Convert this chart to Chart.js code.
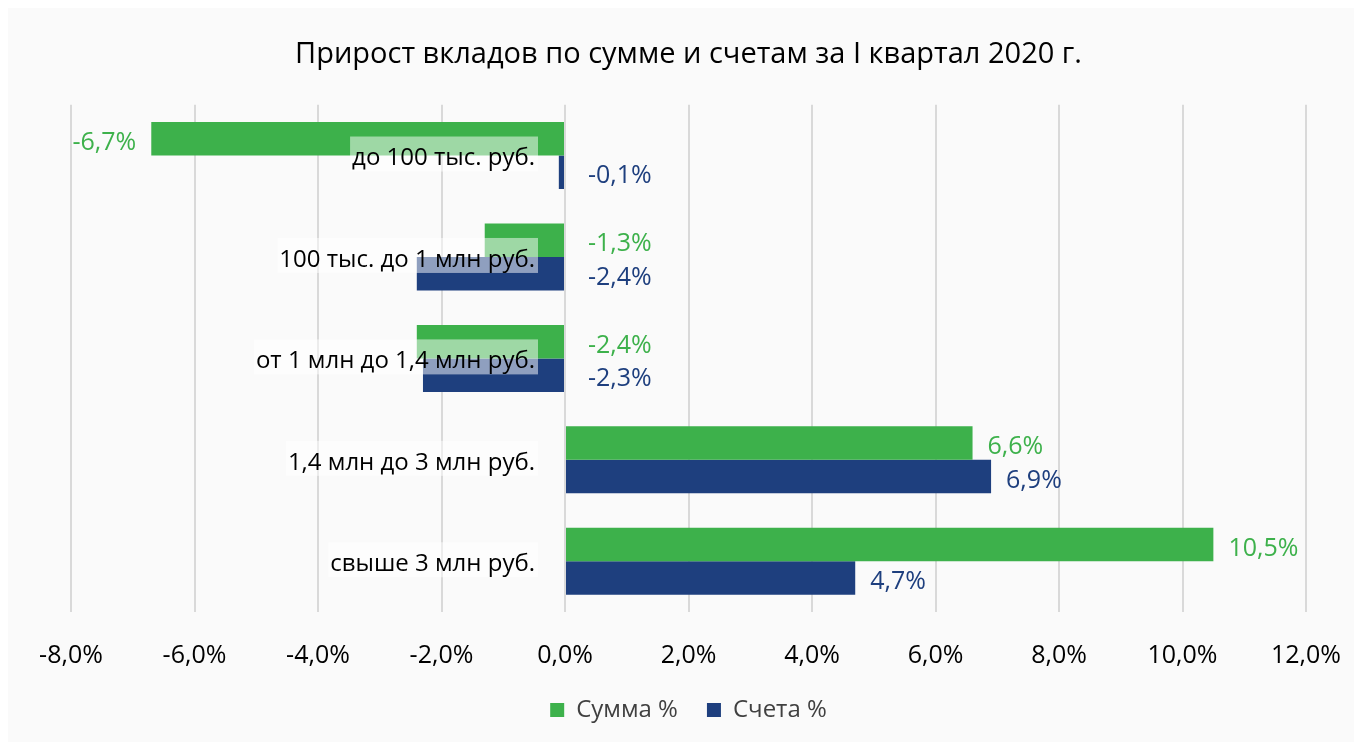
<!DOCTYPE html>
<html lang="ru">
<head>
<meta charset="utf-8">
<title>Прирост вкладов</title>
<script src="https://cdn.jsdelivr.net/npm/chart.js@4.4.0/dist/chart.umd.min.js"></script>
<style>
  html, body { margin: 0; padding: 0; background: #ffffff; }
  canvas { display: block; }
</style>
</head>
<body>
<canvas id="depositChart" width="1360" height="742"></canvas>
<script>
// Categories (top to bottom)
const categories = [
    'до 100 тыс. руб.',
    '100 тыс. до 1 млн руб.',
    'от 1 млн до 1,4 млн руб.',
    '1,4 млн до 3 млн руб.',
    'свыше 3 млн руб.'
];

// Series values, %
const summaValues = [-6.7, -1.3, -2.4, 6.6, 10.5];
const schetaValues = [-0.1, -2.4, -2.3, 6.9, 4.7];

// X axis range
const xMin = -8;
const xMax = 12;
const xStep = 2;

const GREEN = '#3db14b';
const BLUE = '#1e3f7e';
const FONT = "'Open Sans', 'Noto Sans', sans-serif";

// Format numbers the Russian way: comma as decimal separator
function pct(v) {
    return v.toFixed(1).replace('.', ',') + '%';
}

// Light grey card behind the chart
const backgroundPlugin = {
    id: 'cardBackground',
    beforeDraw(chart) {
        const ctx = chart.ctx;
        ctx.save();
        ctx.fillStyle = '#ffffff';
        ctx.fillRect(0, 0, chart.width, chart.height);
        ctx.fillStyle = '#fafafa';
        ctx.fillRect(8, 8, chart.width - 14, chart.height - 8);
        ctx.restore();
    }
};

// Category names drawn over the bars, with a half transparent white box
const categoryLabelPlugin = {
    id: 'categoryLabels',
    afterDatasetsDraw(chart) {
        const ctx = chart.ctx;
        const xScale = chart.scales.x;
        const yScale = chart.scales.y;
        const right = xScale.getPixelForValue(0) - 27;
        ctx.save();
        ctx.font = '24px ' + FONT;
        ctx.textAlign = 'right';
        ctx.textBaseline = 'middle';
        categories.forEach((name, i) => {
            const y = yScale.getPixelForValue(i);
            const w = ctx.measureText(name).width;
            ctx.fillStyle = 'rgba(255, 255, 255, 0.5)';
            ctx.fillRect(right - w - 5, y - 19, w + 5, 35);
            ctx.fillStyle = '#000000';
            ctx.fillText(name, right - 3, y + 3);
        });
        ctx.restore();
    }
};

// Value labels next to the bars
const valueLabelPlugin = {
    id: 'valueLabels',
    afterDatasetsDraw(chart) {
        const ctx = chart.ctx;
        const zero = chart.scales.x.getPixelForValue(0);
        ctx.save();
        ctx.font = '25px ' + FONT;
        ctx.textBaseline = 'middle';
        chart.data.datasets.forEach((ds, di) => {
            const meta = chart.getDatasetMeta(di);
            ctx.fillStyle = ds.backgroundColor;
            meta.data.forEach((bar, i) => {
                const v = ds.data[i];
                let x;
                if (v >= 0) {
                    ctx.textAlign = 'left';
                    x = bar.x + 15;
                } else if (v < -5) {
                    ctx.textAlign = 'right';
                    x = bar.x - 15;
                } else {
                    ctx.textAlign = 'left';
                    x = zero + 23;
                }
                ctx.fillText(pct(v), x, bar.y + 4);
            });
        });
        ctx.restore();
    }
};

const ctx = document.getElementById('depositChart').getContext('2d');
new Chart(ctx, {
    type: 'bar',
    data: {
        labels: categories,
        datasets: [
            {
                label: 'Сумма %',
                data: summaValues,
                backgroundColor: GREEN,
                borderWidth: 0
            },
            {
                label: 'Счета %',
                data: schetaValues,
                backgroundColor: BLUE,
                borderWidth: 0
            }
        ]
    },
    options: {
        indexAxis: 'y',
        responsive: false,
        animation: false,
        devicePixelRatio: 1,
        layout: {
            padding: { left: 71, right: 54, top: 0, bottom: 10 }
        },
        datasets: {
            bar: {
                barPercentage: 1,
                categoryPercentage: 0.66
            }
        },
        scales: {
            x: {
                min: xMin,
                max: xMax,
                border: { display: false },
                grid: {
                    color: '#d9d9d9',
                    lineWidth: 2,
                    drawTicks: false
                },
                ticks: {
                    stepSize: xStep,
                    padding: 31,
                    color: '#000000',
                    font: { family: FONT, size: 25, lineHeight: 1.0 },
                    callback: (value) => pct(value)
                },
                afterFit: (scale) => {
                    // fixed axis band, chart padding comes from layout only
                    scale.height = 57;
                    scale.paddingLeft = 0;
                    scale.paddingRight = 0;
                }
            },
            y: {
                display: false
            }
        },
        plugins: {
            title: {
                display: true,
                text: 'Прирост вкладов по сумме и счетам за I квартал 2020 г.',
                color: '#000000',
                font: { family: FONT, size: 29, weight: 'normal', lineHeight: 1.2 },
                padding: { top: 37, bottom: 33 }
            },
            legend: {
                position: 'bottom',
                labels: {
                    color: '#404040',
                    font: { family: FONT, size: 24 },
                    boxWidth: 14,
                    boxHeight: 14,
                    padding: 29
                }
            },
            tooltip: { enabled: false }
        }
    },
    plugins: [backgroundPlugin, categoryLabelPlugin, valueLabelPlugin]
});
</script>
</body>
</html>
